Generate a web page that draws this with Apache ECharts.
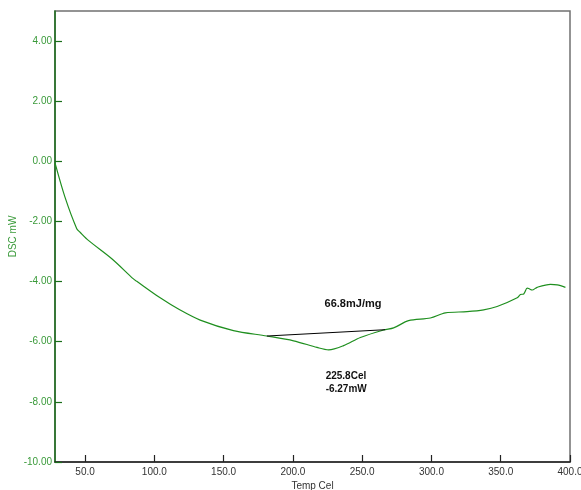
<!DOCTYPE html>
<html>
<head>
<meta charset="utf-8">
<script src="https://cdn.jsdelivr.net/npm/echarts@6/dist/echarts.min.js"></script>
<style>
  html, body { margin: 0; padding: 0; background: #fff; }
  #chart { width: 581px; height: 490px; }
</style>
</head>
<body>
<div id="chart"></div>
<script>
// DSC heating curve: temperature (Cel) vs heat flow (mW)
const temps = [28.3, 35.5, 44.0, 46.4, 52.4, 69.3, 84.9, 87.3, 104.2, 118.0, 133.1, 157.1,
  181.2, 200.5, 217.4, 225.8, 236.6, 248.7, 265.5, 272.7, 283.5, 299.2, 310.1, 325.7,
  337.7, 347.4, 361.9, 364.2, 366.6, 369.1, 370.2, 372.7, 376.3, 385.9, 390.8, 396.7];
const dsc = [-0.05, -1.19, -2.24, -2.36, -2.63, -3.24, -3.91, -3.99, -4.54, -4.93, -5.28, -5.63,
  -5.81, -5.97, -6.19, -6.27, -6.13, -5.86, -5.61, -5.54, -5.30, -5.21, -5.04, -5.00,
  -4.94, -4.83, -4.54, -4.43, -4.41, -4.22, -4.23, -4.28, -4.19, -4.09, -4.11, -4.19];

// Peak and integration baseline of the endotherm
const peak = [225.8, -6.27];
const baselineStart = [181.2, -5.81];
const baselineEnd = [266.6, -5.60];
const enthalpy = '66.8mJ/mg';

const xTicks = [50, 100, 150, 200, 250, 300, 350, 400];
const yTicks = [-10, -8, -6, -4, -2, 0, 2, 4];

const curve = temps.map((t, i) => [t, dsc[i]]);
const baseMid = [(baselineStart[0] + baselineEnd[0]) / 2, (baselineStart[1] + baselineEnd[1]) / 2];

const FONT = '"Liberation Sans", Arial, sans-serif';
const chart = echarts.init(document.getElementById('chart'), null, { renderer: 'canvas' });

chart.setOption({
  animation: false,
  backgroundColor: '#ffffff',
  grid: {
    left: 55, right: 11, top: 11, bottom: 28,
    outerBoundsMode: 'none',
    containLabel: false,
    show: true, borderColor: '#707070', borderWidth: 1.5, backgroundColor: 'transparent'
  },
  xAxis: {
    type: 'value',
    min: 28.3, max: 400,
    name: 'Temp Cel',
    nameLocation: 'middle',
    nameGap: 19,
    nameMoveOverlap: false,
    nameTextStyle: { color: '#333', fontFamily: FONT, fontSize: 10 },
    axisLine: { show: true, onZero: false, lineStyle: { color: '#222', width: 1.5 } },
    axisTick: { show: true, inside: true, length: 7, customValues: xTicks, lineStyle: { color: '#222', width: 1.2 } },
    axisLabel: {
      customValues: xTicks,
      color: '#333', fontFamily: FONT, fontSize: 10, margin: 5,
      formatter: v => v.toFixed(1)
    },
    splitLine: { show: false }
  },
  yAxis: {
    type: 'value',
    min: -10, max: 5,
    name: 'DSC mW',
    nameLocation: 'middle',
    nameGap: 37,
    nameRotate: 90,
    nameMoveOverlap: false,
    nameTextStyle: { color: '#3a9a3a', fontFamily: FONT, fontSize: 10 },
    axisLine: { show: true, onZero: false, lineStyle: { color: '#1a6e1a', width: 1.5 } },
    axisTick: { show: true, inside: true, length: 7, customValues: yTicks, lineStyle: { color: '#1a6e1a', width: 1.2 } },
    axisLabel: {
      customValues: yTicks,
      color: '#3a9a3a', fontFamily: FONT, fontSize: 10, margin: 3,
      formatter: v => v.toFixed(2)
    },
    splitLine: { show: false }
  },
  series: [
    {
      name: 'DSC',
      type: 'line',
      data: curve,
      showSymbol: false,
      smooth: 0.3,
      lineStyle: { color: '#1f8f1f', width: 1.2 },
      markPoint: {
        symbol: 'circle',
        symbolSize: 0,
        data: [
          {
            coord: peak,
            label: {
              show: true,
              formatter: peak[0].toFixed(1) + 'Cel\n' + peak[1].toFixed(2) + 'mW',
              position: 'inside',
              align: 'left',
              offset: [-3, 33],
              color: '#111', fontFamily: FONT, fontSize: 10, fontWeight: 'bold', lineHeight: 13
            }
          },
          {
            coord: baseMid,
            label: {
              show: true,
              formatter: enthalpy,
              position: 'inside',
              offset: [27, -29],
              color: '#111', fontFamily: FONT, fontSize: 11, fontWeight: 'bold'
            }
          }
        ]
      }
    },
    {
      name: 'Baseline',
      type: 'line',
      data: [baselineStart, baselineEnd],
      showSymbol: false,
      lineStyle: { color: '#000', width: 1 },
      z: 3
    }
  ]
});
</script>
</body>
</html>
